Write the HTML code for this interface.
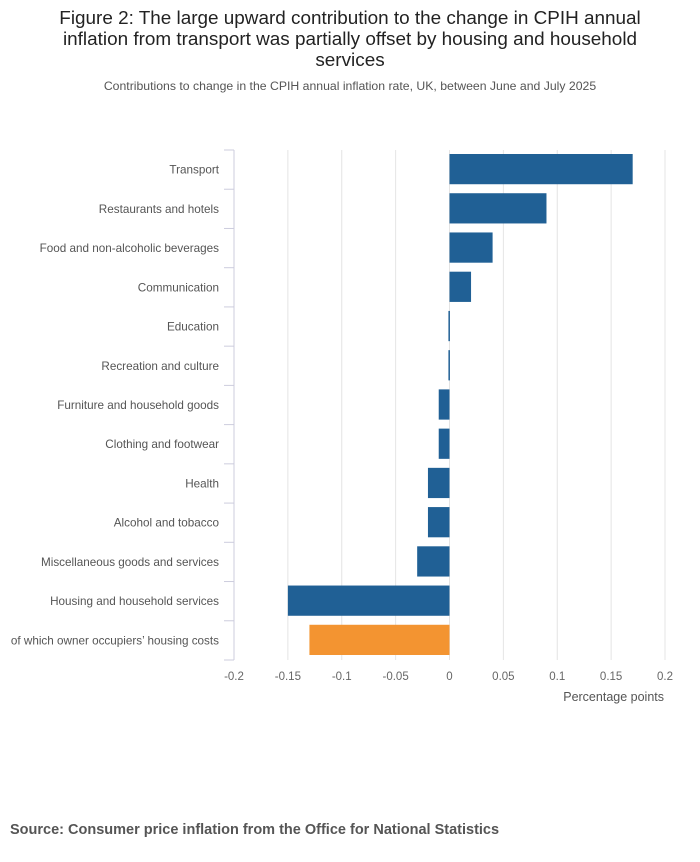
<!DOCTYPE html>
<html><head><meta charset="utf-8"><style>
body{margin:0;background:#fff;font-family:"Liberation Sans","DejaVu Sans",sans-serif;}
#wrap{position:relative;width:700px;height:857px;}
</style></head><body>
<div id="wrap">
<svg id="chart" width="700" height="857" xmlns="http://www.w3.org/2000/svg">
<text x="350" y="24" text-anchor="middle" font-size="18.9" fill="#222">Figure 2: The large upward contribution to the change in CPIH annual</text>
<text x="350" y="45" text-anchor="middle" font-size="18.9" fill="#222">inflation from transport was partially offset by housing and household</text>
<text x="350" y="66" text-anchor="middle" font-size="18.9" fill="#222">services</text>
<text x="350" y="90" text-anchor="middle" font-size="12.25" fill="#555">Contributions to change in the CPIH annual inflation rate, UK, between June and July 2025</text>
<g id="grid"></g><g id="bars"></g><g id="labels"></g><g id="xticks"></g>
<text x="664" y="701" text-anchor="end" font-size="12.5" fill="#555">Percentage points</text>
<text x="10" y="834" font-size="14.5" font-weight="bold" fill="#555">Source: Consumer price inflation from the Office for National Statistics</text>
</svg>
</div>
<script>
const categories=["Transport","Restaurants and hotels","Food and non-alcoholic beverages","Communication","Education","Recreation and culture","Furniture and household goods","Clothing and footwear","Health","Alcohol and tobacco","Miscellaneous goods and services","Housing and household services","of which owner occupiers’ housing costs"];
const values=[0.17,0.09,0.04,0.02,-0.001,-0.001,-0.01,-0.01,-0.02,-0.02,-0.03,-0.15,-0.13];
const highlight=[false,false,false,false,false,false,false,false,false,false,false,false,true];
const xTicks=[-0.2,-0.15,-0.1,-0.05,0,0.05,0.1,0.15,0.2];
const xTickLabels=["-0.2","-0.15","-0.1","-0.05","0","0.05","0.1","0.15","0.2"];
const NS="http://www.w3.org/2000/svg";
const X0=234,X1=665,Y0=150,Y1=660,dmin=-0.2,dmax=0.2;
const x=v=>X0+(v-dmin)/(dmax-dmin)*(X1-X0);
const band=(Y1-Y0)/categories.length;
const y=i=>Y0+i*band;
function mk(t,a,p){const e=document.createElementNS(NS,t);for(const k in a)e.setAttribute(k,a[k]);p.appendChild(e);return e;}
const grid=document.getElementById('grid'),bars=document.getElementById('bars'),labels=document.getElementById('labels'),xt=document.getElementById('xticks');
xTicks.forEach((t,i)=>{
 if(i>0){const l=mk('line',{x1:x(t),x2:x(t),y1:Y0,y2:Y1,stroke:'#e4e4e4','stroke-width':1},grid);
 
 }
 const tx=mk('text',{x:x(t),y:680,'text-anchor':'middle','font-size':11.5,fill:'#666'},xt);
 tx.textContent=xTickLabels[i];
 
 
});
const ax=mk('line',{x1:X0,x2:X0,y1:Y0,y2:Y1,stroke:'#ccd',"stroke-width":1},grid);


for(let i=0;i<=categories.length;i++){
 const tk=mk('line',{x1:X0-10,x2:X0,y1:y(i),y2:y(i),stroke:'#ccd'},grid);
 
 
}
categories.forEach((c,i)=>{
 const v=values[i];
 let x1=Math.min(x(0),x(v)),w=Math.abs(x(v)-x(0));if(w<1.5)w=1.5;
 const r=mk('rect',{x:x1,y:y(i)+4,width:w,height:band-9,fill:highlight[i]?'#f39431':'#206095'},bars);
 
 
 const t=mk('text',{x:219,y:y(i)+band/2+4,'text-anchor':'end','font-size':11.7,fill:'#555'},labels);
 t.textContent=c;
 
 
});
</script>
</body></html>
